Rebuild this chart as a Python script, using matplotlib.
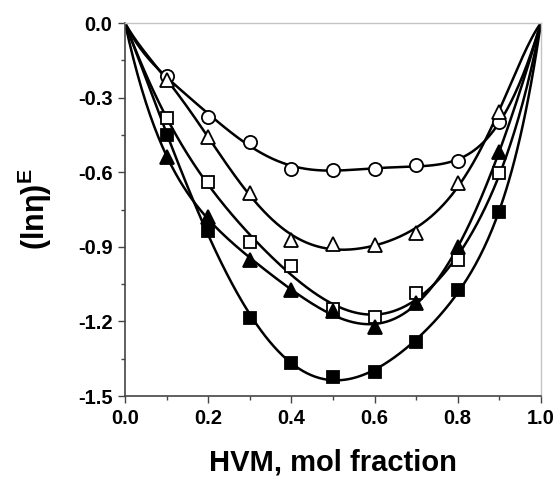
import matplotlib
matplotlib.use('Agg')
import matplotlib.pyplot as plt
import numpy as np

plt.rcParams['font.family'] = ['Liberation Sans', 'DejaVu Sans']
plt.rcParams['mathtext.fontset'] = 'custom'
plt.rcParams['mathtext.bf'] = 'Liberation Sans:bold'
plt.rcParams['mathtext.rm'] = 'Liberation Sans:bold'

# mole fraction of HVM
x = [0.1, 0.2, 0.3, 0.4, 0.5, 0.6, 0.7, 0.8, 0.9]

open_circle = [-0.213, -0.377, -0.477, -0.586, -0.590, -0.587, -0.570, -0.555, -0.397]
open_triangle = [-0.229, -0.457, -0.685, -0.873, -0.889, -0.893, -0.843, -0.642, -0.357]
open_square = [-0.383, -0.638, -0.879, -0.977, -1.150, -1.183, -1.087, -0.953, -0.605]
filled_triangle = [-0.538, -0.779, -0.953, -1.074, -1.160, -1.224, -1.127, -0.899, -0.518]
filled_square = [-0.450, -0.836, -1.187, -1.368, -1.422, -1.402, -1.281, -1.074, -0.759]

series = [
    (open_circle, 'o', 'white', 9.5),
    (open_triangle, '^', 'white', 10),
    (open_square, 's', 'white', 8.5),
    (filled_triangle, '^', 'black', 10),
    (filled_square, 's', 'black', 8.5),
]


def rk_fit(xs, ys, n=6):
    # Redlich-Kister type fit, goes through 0 at both ends
    xs = np.asarray(xs)
    ys = np.asarray(ys)
    A = np.column_stack([xs * (1 - xs) * (2 * xs - 1) ** k for k in range(n)])
    coef, *_ = np.linalg.lstsq(A, ys, rcond=None)
    xx = np.linspace(0, 1, 300)
    yy = sum(c * xx * (1 - xx) * (2 * xx - 1) ** k for k, c in enumerate(coef))
    return xx, yy


fig = plt.figure(figsize=(5.59, 4.8), dpi=100)
ax = fig.add_axes([0.2236, 0.175, 0.744, 0.777])

for ys, marker, face, ms in series:
    xx, yy = rk_fit(x, ys)
    ax.plot(xx, yy, color='black', linewidth=1.8, zorder=2)
    ax.plot(x, ys, linestyle='none', marker=marker, markersize=ms,
            markerfacecolor=face, markeredgecolor='black', markeredgewidth=1.3, zorder=3)

ax.set_xlim(0, 1.0)
ax.set_ylim(-1.5, 0.0)
ax.set_xticks(np.arange(0, 1.01, 0.2))
ax.set_xticks(np.arange(0.1, 1.0, 0.2), minor=True)
ax.set_yticks(np.arange(-1.5, 0.01, 0.3))
ax.set_yticks(np.arange(-1.35, 0.0, 0.3), minor=True)
ax.set_xticklabels(['0.0', '0.2', '0.4', '0.6', '0.8', '1.0'])
ax.set_yticklabels(['-1.5', '-1.2', '-0.9', '-0.6', '-0.3', '0.0'])

ax.tick_params(which='both', direction='out', color='#444444', width=1)
ax.tick_params(which='major', length=5, labelsize=14.5, pad=4)
ax.tick_params(which='minor', length=3)
for lbl in ax.get_xticklabels() + ax.get_yticklabels():
    lbl.set_fontweight('bold')

for side in ['left', 'bottom']:
    ax.spines[side].set_color('#444444')
    ax.spines[side].set_linewidth(1.2)
for side in ['top', 'right']:
    ax.spines[side].set_color('#c4c4c4')
    ax.spines[side].set_linewidth(1)

ax.set_xlabel('HVM, mol fraction', fontsize=21, fontweight='bold', labelpad=15)
ax.set_ylabel('(lnη)$^{\\mathbf{E}}$', fontsize=22, fontweight='bold', labelpad=17)

fig.savefig('out.png', dpi=100)
